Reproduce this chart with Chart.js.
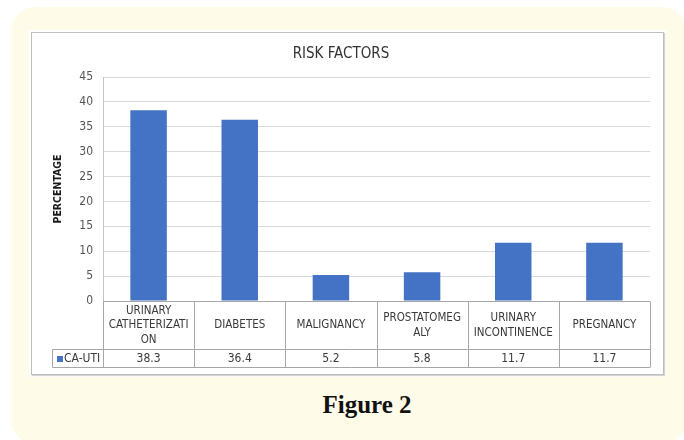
<!DOCTYPE html>
<html>
<head>
<meta charset="utf-8">
<script src="https://cdn.jsdelivr.net/npm/chart.js@4"></script>
<style>
  html, body { margin: 0; padding: 0; background: #ffffff; }
  body { width: 684px; height: 440px; position: relative; overflow: hidden; }
  #frame {
    position: absolute; left: 11px; top: 7px; width: 675px; height: 437px;
    background: #fffbe9; border-radius: 24px;
  }
  #panel {
    position: absolute; left: 29px; top: 30px; width: 637px; height: 347px;
    background: #ffffff;
  }
  #box {
    position: absolute; left: 2px; top: 2px; width: 631px; height: 341px;
    border: 1px solid #bdbdbd; box-shadow: 1px 1px 1px #d4d4d4;
  }
  #chart { position: absolute; left: 0; top: 0; }
  #caption {
    position: absolute; left: 290px; top: 391px; width: 154px; text-align: center;
    font: bold 25px "Liberation Serif", "DejaVu Serif", serif; color: #111111;
  }
</style>
</head>
<body>
<div id="frame"></div>
<div id="panel"><div id="box"><canvas id="chart" width="631" height="341"></canvas></div></div>
<div id="caption">Figure 2</div>
<script>
// Risk factors for catheter-associated UTI, in percent
const categories = [
  ['URINARY', 'CATHETERIZATI', 'ON'],
  ['DIABETES'],
  ['MALIGNANCY'],
  ['PROSTATOMEG', 'ALY'],
  ['URINARY', 'INCONTINENCE'],
  ['PREGNANCY']
];
const seriesName = 'CA-UTI';
const caUti = [38.3, 36.4, 5.2, 5.8, 11.7, 11.7];
const yTicks = [0, 5, 10, 15, 20, 25, 30, 35, 40, 45];

const FONT = '"Liberation Sans Narrow", "Arial Narrow", "DejaVu Sans Condensed", sans-serif';
const BAR = '#4472c4';
const TABLE_LINE = '#a6a6a6';

// Data table under the plot: category header row plus one value row
const dataTable = {
  id: 'dataTable',
  afterDraw(chart) {
    const { ctx, chartArea, scales } = chart;
    const xs = scales.x;
    const n = categories.length;
    const colW = (chartArea.right - chartArea.left) / n;
    const top = Math.round(chartArea.bottom) + 0.5;
    const row1 = top + 48;
    const row2 = row1 + 18;
    const legendLeft = 20.5;
    ctx.save();
    ctx.strokeStyle = TABLE_LINE;
    ctx.lineWidth = 1;
    ctx.beginPath();
    ctx.moveTo(chartArea.left, top); ctx.lineTo(chartArea.right, top);
    ctx.moveTo(legendLeft, row1); ctx.lineTo(chartArea.right, row1);
    ctx.moveTo(legendLeft, row2); ctx.lineTo(chartArea.right, row2);
    for (let i = 0; i <= n; i++) {
      const x = Math.round(chartArea.left + i * colW) + 0.5;
      ctx.moveTo(x, top); ctx.lineTo(x, row2);
    }
    ctx.moveTo(legendLeft, row1); ctx.lineTo(legendLeft, row2);
    ctx.stroke();

    const mid = (row1 + row2) / 2;
    ctx.fillStyle = BAR;
    ctx.fillRect(25, Math.round(mid - 3), 6, 6);
    ctx.fillStyle = '#3a3a3a';
    ctx.font = '12px ' + FONT;
    ctx.textBaseline = 'middle';
    ctx.textAlign = 'left';
    ctx.fillText(seriesName, 32, mid + 0.5);
    ctx.textAlign = 'center';
    caUti.forEach((v, i) => {
      ctx.fillText(v.toFixed(1), xs.getPixelForValue(i), mid + 0.5);
    });
    ctx.restore();
  }
};

new Chart(document.getElementById('chart'), {
  type: 'bar',
  data: {
    labels: categories,
    datasets: [{
      label: seriesName,
      data: caUti,
      backgroundColor: BAR,
      borderWidth: 0,
      categoryPercentage: 1,
      barPercentage: 0.4
    }]
  },
  options: {
    responsive: false,
    animation: false,
    layout: { padding: { left: 0, right: 13, top: 0, bottom: 0 } },
    plugins: {
      legend: { display: false },
      tooltip: { enabled: false },
      title: {
        display: true,
        text: 'RISK FACTORS',
        color: '#333333',
        font: { family: FONT, size: 15, weight: 'normal', lineHeight: 1.2 },
        padding: { top: 12, bottom: 14 }
      }
    },
    scales: {
      y: {
        min: 0, max: 45,
        afterBuildTicks(scale) { scale.ticks = yTicks.map(v => ({ value: v })); },
        afterFit(scale) { scale.width = 71; },
        ticks: {
          padding: 10,
          color: '#555555',
          font: { family: FONT, size: 12 }
        },
        grid: { color: '#d9d9d9', drawTicks: false },
        border: { display: true, color: '#c4c4c4' },
        title: {
          display: true,
          text: 'PERCENTAGE',
          color: '#1a1a1a',
          font: { family: FONT, size: 10.5, weight: 'bold', lineHeight: 1.2 },
          padding: { top: 20, bottom: 0 }
        }
      },
      x: {
        afterFit(scale) { scale.height = 73; },
        grid: { display: false, drawTicks: false },
        border: { display: false },
        ticks: {
          color: '#3a3a3a',
          font: { family: FONT, size: 11.5, lineHeight: 1.26 },
          crossAlign: 'center',
          padding: 10,
          maxRotation: 0,
          autoSkip: false
        }
      }
    }
  },
  plugins: [dataTable]
});
</script>
</body>
</html>
